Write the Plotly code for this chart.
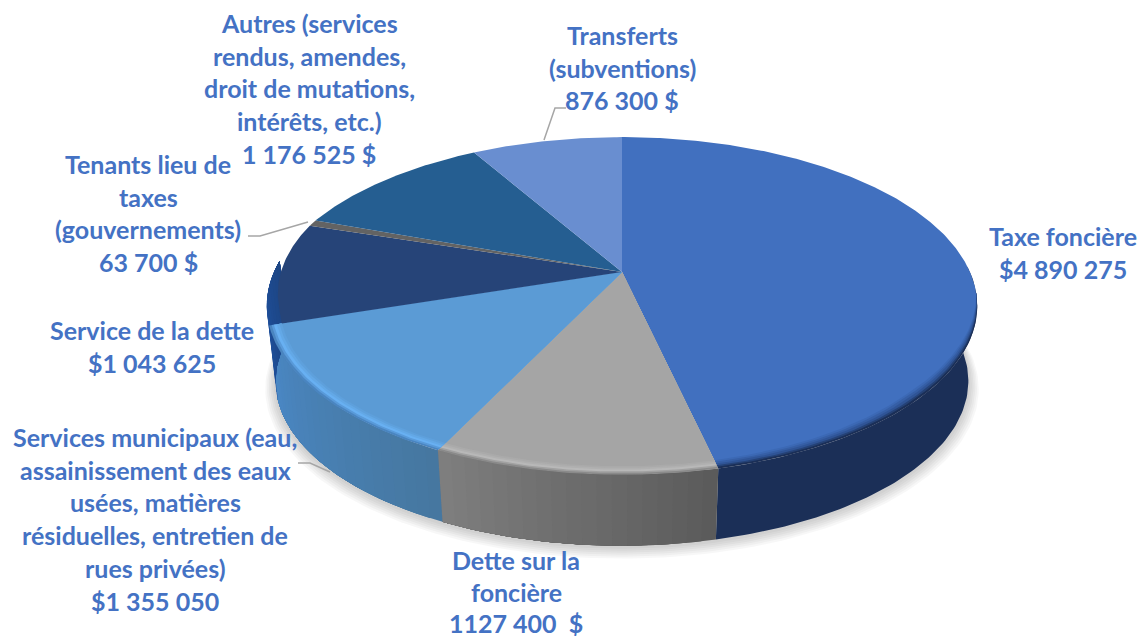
import numpy as np
import plotly.graph_objects as go

# ---- data
categories = ["Taxe foncière", "Dette sur la foncière", "Services municipaux", "Service de la dette",
              "Tenants lieu de taxes", "Autres", "Transferts"]
values = [4890275, 1127400, 1355050, 1043625, 63700, 1176525, 876300]

label_lines = [
    ["Taxe foncière", "$4 890 275"],
    ["Dette sur la", "foncière", "1127 400\u00a0\u00a0$"],
    ["Services municipaux (eau,", "assainissement des eaux", "usées, matières",
     "résiduelles, entretien de", "rues privées)", "$1 355 050"],
    ["Service de la dette", "$1 043 625"],
    ["Tenants lieu de", "taxes", "(gouvernements)", "63 700 $"],
    ["Autres (services", "rendus, amendes,", "droit de mutations,", "intérêts, etc.)", "1 176 525 $"],
    ["Transferts", "(subventions)", "876 300 $"],
]
label_x = [1063, 516, 155, 152, 148, 309, 622]
label_y0 = [236, 560, 437, 330, 164, 23, 35]
label_step = [32.7, 31.5, 32.7, 32.7, 32.7, 32.7, 32.7]

top_colors = ["#4170bf", "#a5a5a5", "#5b9bd5", "#264478", "#636363", "#255e91", "#698ed0"]
edge_colors = ["#1b2f57", "#8a8a8a", "#4a85c0", "#264478", "#636363", "#255e91", "#698ed0"]
glow_colors = ["#2f5496", "#b8b8b8", "#68b0f2", "#264478", "#636363", "#255e91", "#698ed0"]
wall_start = ["#1b2f57", "#5a5a5a", "#46779f", "#2052a0", "#3a3a3a", "#1a4268", "#4a6494"]
wall_end = ["#1b2f57", "#7f7f7f", "#4a88c6", "#1c4584", "#3a3a3a", "#1a4268", "#4a6494"]

leaders = [
    ([544, 555, 566], [140, 108, 108]),
    ([248, 260, 308], [236, 236, 222]),
    ([298, 310, 330], [463, 463, 472]),
]

# ---- perspective view of the disc
CX, CY, R, A, K = 622, 272, 348, 162, 0.201
SCALE, DEPTH = 0.975, 76


def top_point(theta, r=1.0):
    u, v = r * np.sin(theta), r * np.cos(theta)
    w = 1 + K * v
    return R * u / w, A * -v / w


def to_top(sx, sy):
    return CX + sx, CY + sy


def to_bottom(sx, sy):
    return CX + SCALE * sx, CY + SCALE * sy + DEPTH


def rgb(h):
    return np.array([int(h[i:i + 2], 16) for i in (1, 3, 5)], float)


def blend(a, b, t):
    c = rgb(a) * (1 - t) + rgb(b) * t
    return "#%02x%02x%02x" % tuple(int(round(x)) for x in c)


def poly(xs, ys, color, line=0.0):
    return go.Scatter(x=list(xs), y=list(ys), mode="lines", fill="toself", fillcolor=color,
                      line=dict(color=color, width=line), hoverinfo="skip", showlegend=False)


fig = go.Figure()
edges = np.concatenate([[0], np.cumsum(values)]) / np.sum(values) * 2 * np.pi

# soft shadow under the disc
full = np.linspace(np.radians(70), np.radians(290), 161)
sx, sy = top_point(full)
for grow, drop in [(1.03, 7), (1.025, 6), (1.02, 5), (1.015, 4), (1.01, 3), (1.005, 2)]:
    fig.add_trace(poly(CX + SCALE * grow * sx, CY + SCALE * grow * sy + DEPTH + drop, "rgba(0,0,0,0.03)"))

# side wall: each layer runs from its angle to the slice end, so later layers overlap earlier ones without seams
for i in range(len(values)):
    a0, a1 = edges[i], edges[i + 1]
    lo, hi = max(a0, np.radians(88)), min(a1, np.radians(274))
    if hi <= lo:
        continue
    n = 1 if wall_start[i] == wall_end[i] else max(1, int(np.degrees(hi - lo) / 2))
    th = np.linspace(lo, hi, n + 1)
    for j in range(n):
        tt = (j + 0.5) / n
        seg = np.linspace(th[j], hi, max(3, int(np.degrees(hi - th[j]))))
        tx, ty = top_point(seg)
        x1, y1 = to_top(tx, ty)
        x2, y2 = to_bottom(tx, ty)
        fig.add_trace(poly(np.r_[x1, x2[::-1]], np.r_[y1, y2[::-1]], blend(wall_start[i], wall_end[i], tt)))

# top face, with a rim bevel that only shows toward the viewer
steps = [(0.0, 0, "edge"), (0.2, 0.5, "e2g"), (0.38, 1, "e2g"), (0.6, 0.4, "g2c"), (0.8, 0.75, "g2c"), (1.0, 1, "g2c")]
BEVEL = 0.034
for i in range(len(values)):
    th = np.linspace(edges[i], edges[i + 1], max(6, int(np.degrees(edges[i + 1] - edges[i]) * 2)))
    start = np.where(np.sin(th) > 0, -0.12, 0.32)
    front = np.clip((-np.cos(th) + start) / 0.55, 0, 1)
    layer_list = [(1.0, 1, "g2c")] if edge_colors[i] == top_colors[i] else steps
    for w, t, kind in layer_list:
        if kind == "edge":
            col = edge_colors[i]
        elif kind == "e2g":
            col = blend(edge_colors[i], glow_colors[i], t)
        else:
            col = blend(glow_colors[i], top_colors[i], t)
        keep = front > 0 if w < 1.0 else np.ones_like(th, bool)
        tx, ty = top_point(th[keep], 1 - BEVEL * w * front[keep])
        x, y = to_top(tx, ty)
        fig.add_trace(poly(np.r_[CX, x, CX], np.r_[CY, y, CY], col))

# leader lines
for lx, ly in leaders:
    fig.add_trace(go.Scatter(x=lx, y=ly, mode="lines", line=dict(color="#a6a6a6", width=1.5),
                             hoverinfo="skip", showlegend=False))

# labels
for lines, lx, ly, step in zip(label_lines, label_x, label_y0, label_step):
    for k, text in enumerate(lines):
        fig.add_annotation(x=lx, y=ly + k * step, text=text, showarrow=False, xanchor="center", yanchor="middle",
                           font=dict(family="Lato", size=25, color="#4472c4", weight="bold"))

fig.update_layout(width=1139, height=636, margin=dict(l=0, r=0, t=0, b=0), autosize=False,
                  paper_bgcolor="white", plot_bgcolor="white", showlegend=False,
                  xaxis=dict(range=[0, 1139], visible=False, fixedrange=True),
                  yaxis=dict(range=[636, 0], visible=False, fixedrange=True))
fig.write_html("out.html", config={"displayModeBar": False},
               post_script="document.body.style.margin='0';document.body.style.overflow='hidden';")
